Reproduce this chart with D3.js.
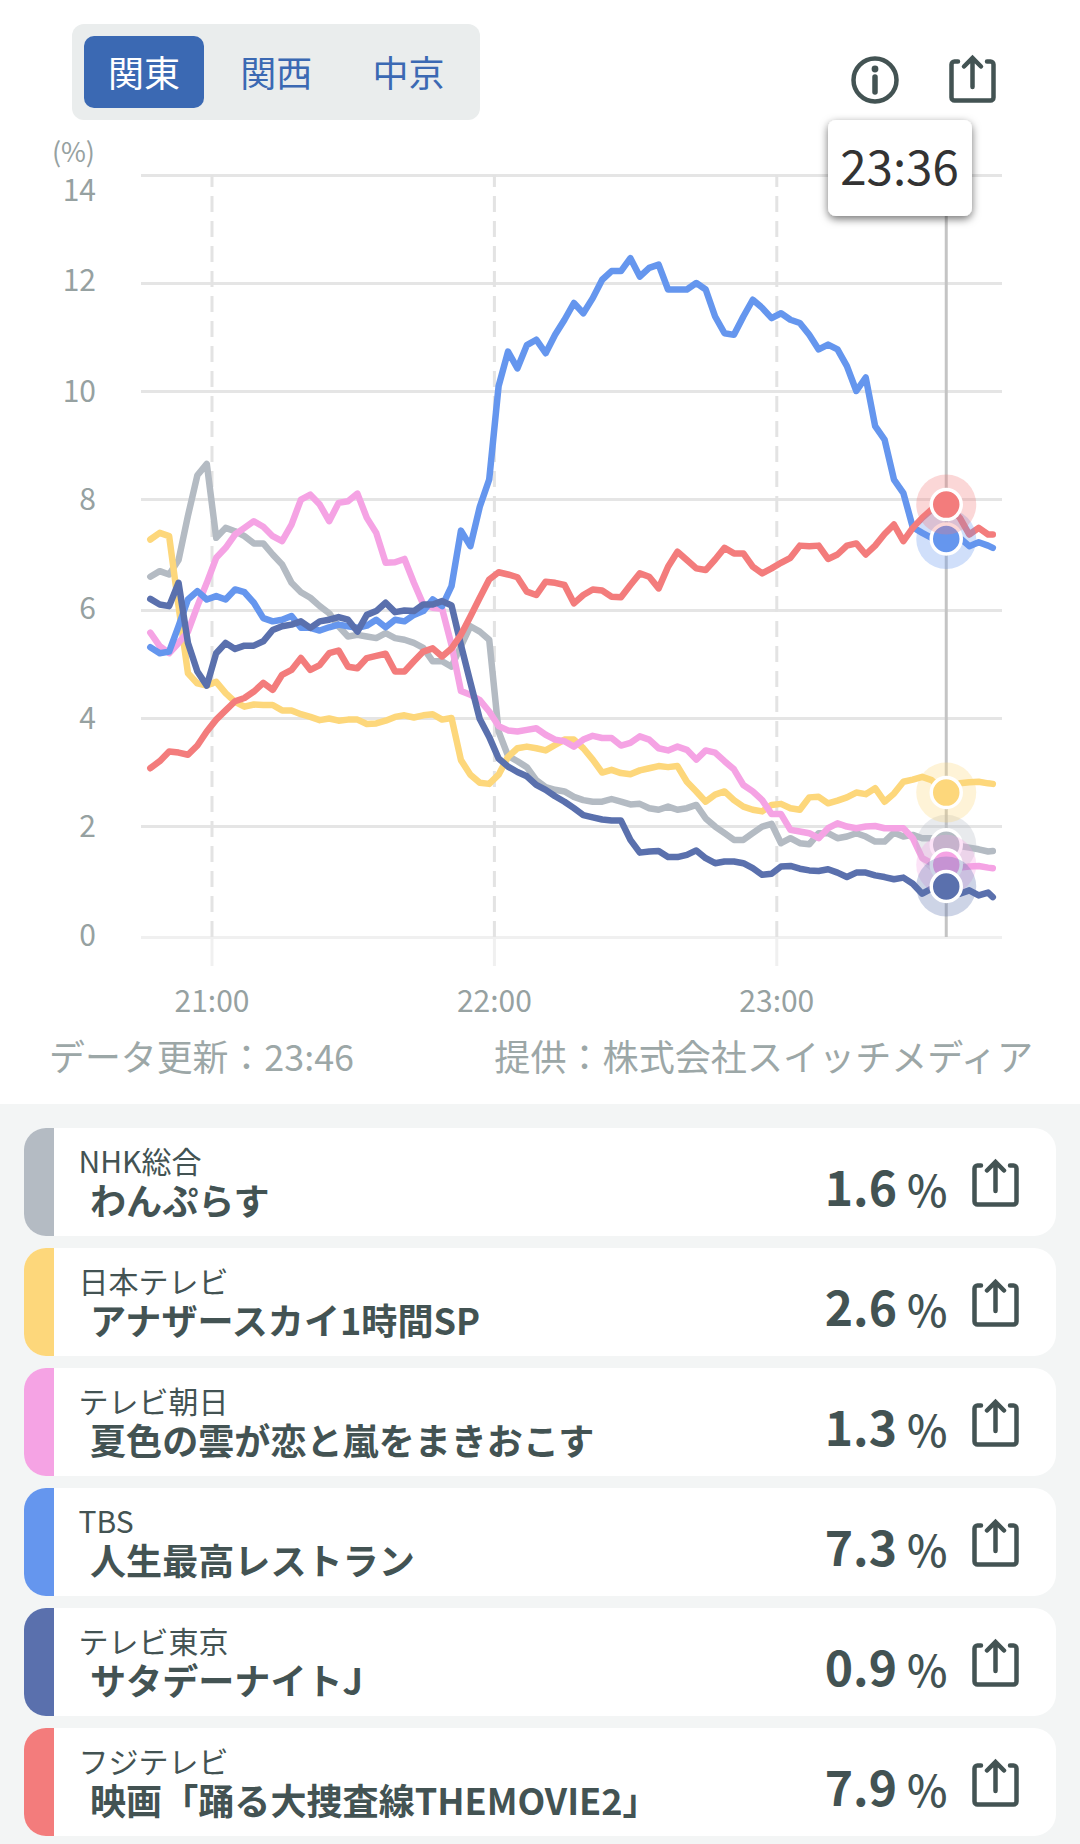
<!DOCTYPE html>
<html>
<head>
<meta charset="utf-8">
<style>
  html, body { margin: 0; padding: 0; background: #fff; }
  svg { display: block; }
  text { font-family: "Noto Sans CJK JP", "Noto Sans", sans-serif; }
</style>
</head>
<body>
<svg id="chart" width="1080" height="1844"></svg>
<script src="https://cdn.jsdelivr.net/npm/d3@7"></script>
<script>
// minutes after 21:00
var minutes = [-13, -11, -9, -7, -5, -3, -1,
  1, 3, 5, 7, 9, 11, 13, 15, 17, 19, 21, 23, 25, 27, 29, 31, 33, 35, 37, 39, 41, 43, 45, 47, 49, 51, 53, 55, 57, 59,
  61, 63, 65, 67, 69, 71, 73, 75, 77, 79, 81, 83, 85, 87, 89, 91, 93, 95, 97, 99, 101, 103, 105, 107, 109, 111, 113, 115, 117, 119,
  121, 123, 125, 127, 129, 131, 133, 135, 137, 139, 141, 143, 145, 147, 149, 151, 153, 155,
  156, 157, 159, 161, 163, 165, 166];

var nhk = [6.6, 6.7, 6.64, 6.9, 7.7, 8.44, 8.65,
  7.3, 7.48, 7.42, 7.33, 7.2, 7.2, 7.0, 6.82, 6.49, 6.32, 6.22, 6.07, 5.94, 5.7, 5.51, 5.54, 5.51, 5.48, 5.57, 5.48, 5.45, 5.39, 5.3, 5.05, 5.05, 4.95, 5.33, 5.7, 5.6, 5.45,
  3.75, 3.3, 3.2, 3.09, 2.85, 2.72, 2.67, 2.64, 2.54, 2.48, 2.45, 2.45, 2.5, 2.45, 2.4, 2.41, 2.33, 2.3, 2.36, 2.3, 2.33, 2.39, 2.14, 1.99, 1.87, 1.75, 1.75, 1.87, 1.99, 2.04,
  1.69, 1.78, 1.69, 1.67, 1.87, 1.87, 1.78, 1.81, 1.87, 1.81, 1.72, 1.72, 1.88, 1.81, 1.84, 1.78, 1.78, 1.69,
  1.66, 1.66, 1.64, 1.61, 1.58, 1.54, 1.55];
var ntv = [7.27, 7.39, 7.33, 6.07, 4.83, 4.64, 4.6,
  4.67, 4.46, 4.3, 4.21, 4.25, 4.24, 4.24, 4.14, 4.14, 4.07, 4.02, 3.96, 3.99, 3.95, 3.97, 3.97, 3.89, 3.9, 3.95, 4.02, 4.05, 4.01, 4.05, 4.07, 3.97, 4.0, 3.22, 2.95, 2.8, 2.78,
  2.95, 3.28, 3.44, 3.47, 3.44, 3.4, 3.5, 3.6, 3.6, 3.44, 3.23, 2.99, 3.04, 2.98, 2.96, 3.03, 3.07, 3.11, 3.09, 3.11, 2.82, 2.64, 2.45, 2.58, 2.64, 2.48, 2.36, 2.3, 2.27, 2.39,
  2.41, 2.33, 2.3, 2.53, 2.54, 2.42, 2.47, 2.53, 2.62, 2.59, 2.7, 2.45, 2.6, 2.82, 2.86, 2.91, 2.85, 2.7,
  2.62, 2.7, 2.79, 2.81, 2.82, 2.79, 2.78];
var asahi = [5.58, 5.33, 5.2, 5.39, 5.6, 6.07, 6.49,
  6.94, 7.12, 7.36, 7.48, 7.6, 7.5, 7.33, 7.24, 7.54, 7.99, 8.08, 7.9, 7.6, 7.93, 7.96, 8.1, 7.66, 7.39, 6.85, 6.86, 6.92, 6.49, 6.1, 6.04, 6.02, 5.35, 4.5, 4.43, 4.33, 4.12,
  3.85, 3.77, 3.75, 3.78, 3.81, 3.69, 3.6, 3.57, 3.47, 3.6, 3.67, 3.63, 3.63, 3.49, 3.54, 3.66, 3.6, 3.44, 3.4, 3.47, 3.41, 3.23, 3.4, 3.36, 3.2, 3.05, 2.76, 2.64, 2.48, 2.22,
  2.22, 1.93, 1.9, 1.87, 1.78, 1.96, 2.05, 1.99, 1.96, 1.99, 2.0, 1.96, 1.96, 1.96, 1.78, 1.42, 1.33, 1.3,
  1.3, 1.28, 1.25, 1.27, 1.28, 1.25, 1.24];
var tbs = [5.31, 5.2, 5.23, 5.7, 6.19, 6.34, 6.19,
  6.25, 6.19, 6.37, 6.32, 6.13, 5.85, 5.79, 5.82, 5.89, 5.67, 5.67, 5.62, 5.68, 5.73, 5.7, 5.67, 5.71, 5.82, 5.68, 5.82, 5.79, 5.91, 5.98, 6.19, 6.07, 6.43, 7.43, 7.15, 7.86, 8.36,
  10.09, 10.73, 10.42, 10.85, 10.95, 10.7, 11.04, 11.32, 11.63, 11.44, 11.72, 12.06, 12.22, 12.22, 12.46, 12.12, 12.28, 12.34, 11.88, 11.88, 11.88, 12.0, 11.88, 11.38, 11.07, 11.04, 11.38, 11.69, 11.54, 11.35,
  11.44, 11.32, 11.26, 11.04, 10.77, 10.86, 10.77, 10.46, 10.0, 10.25, 9.35, 9.1, 8.36, 8.11, 7.49, 7.39, 7.3, 7.28,
  7.28, 7.28, 7.3, 7.15, 7.22, 7.16, 7.12];
var tokyo = [6.2, 6.1, 6.07, 6.49, 5.39, 4.86, 4.6,
  5.2, 5.39, 5.28, 5.34, 5.34, 5.42, 5.63, 5.7, 5.73, 5.79, 5.67, 5.79, 5.82, 5.87, 5.82, 5.6, 5.91, 5.98, 6.13, 5.96, 5.99, 5.98, 6.1, 6.1, 6.16, 6.08, 5.35, 4.66, 3.98, 3.65,
  3.25, 3.1, 3.0, 2.92, 2.76, 2.67, 2.55, 2.45, 2.33, 2.2, 2.16, 2.12, 2.1, 2.1, 1.75, 1.52, 1.54, 1.55, 1.44, 1.44, 1.48, 1.56, 1.42, 1.33, 1.36, 1.36, 1.33, 1.24, 1.12, 1.14,
  1.27, 1.28, 1.23, 1.2, 1.19, 1.22, 1.16, 1.08, 1.16, 1.16, 1.11, 1.08, 1.04, 1.07, 0.96, 0.78, 0.87, 0.9,
  0.91, 0.82, 0.78, 0.84, 0.75, 0.8, 0.72];
var fuji = [3.07, 3.2, 3.38, 3.36, 3.32, 3.49, 3.75,
  3.97, 4.14, 4.31, 4.37, 4.49, 4.65, 4.52, 4.8, 4.89, 5.11, 4.89, 4.98, 5.2, 5.25, 4.95, 4.92, 5.11, 5.15, 5.19, 4.86, 4.86, 5.05, 5.23, 5.29, 5.14, 5.29, 5.54, 5.88, 6.22, 6.55,
  6.68, 6.64, 6.59, 6.33, 6.27, 6.51, 6.49, 6.45, 6.12, 6.27, 6.37, 6.35, 6.24, 6.23, 6.45, 6.66, 6.6, 6.39, 6.78, 7.05, 6.9, 6.75, 6.72, 6.91, 7.12, 7.02, 7.02, 6.78, 6.66, 6.75,
  6.85, 6.94, 7.16, 7.15, 7.16, 6.92, 7.0, 7.16, 7.2, 7.0, 7.16, 7.37, 7.54, 7.24, 7.48, 7.66, 7.81, 7.89,
  7.9, 7.84, 7.66, 7.36, 7.48, 7.36, 7.36];

var channels = ['NHK総合', '日本テレビ', 'テレビ朝日', 'TBS', 'テレビ東京', 'フジテレビ'];
var programs = ['わんぷらす', 'アナザースカイ1時間SP', '夏色の雲が恋と嵐をまきおこす', '人生最高レストラン', 'サタデーナイトJ', '映画「踊る大捜査線THEMOVIE2」'];
var shares = ['1.6', '2.6', '1.3', '7.3', '0.9', '7.9'];
var colors = ['#b4bbc3', '#fdd77b', '#f5a3e4', '#6596ee', '#5a70ad', '#f37c7c'];
var seriesValues = [nhk, ntv, asahi, tbs, tokyo, fuji];

var regions = ['関東', '関西', '中京'];
var yTicks = [0, 2, 4, 6, 8, 10, 12, 14];
var xTicks = [0, 60, 120];
var xTickLabels = ['21:00', '22:00', '23:00'];
var cursorMinute = 156;
var cursorLabel = '23:36';

var textDark = '#435353';
var textAxis = '#96a1a1';
var tabBlue = '#3b69b3';
var sharePath = 'M9,6.5H5.5a3,3 0 0 0 -3,3V42.5a3,3 0 0 0 3,3H41.5a3,3 0 0 0 3,-3V9.5a3,3 0 0 0 -3,-3H38M23.5,32V3M15,11.5L23.5,3L32,11.5';

var svg = d3.select('#chart');

var x = d3.scaleLinear().domain([0, 120]).range([211.5, 776.3]);
// the screenshot's gridlines are not quite evenly spaced
var y = d3.scaleLinear().domain(yTicks).range([937, 826, 718, 610, 499, 391, 283, 175]);

var defs = svg.append('defs');
var shadow = defs.append('filter')
  .attr('id', 'tipShadow')
  .attr('x', '-20%').attr('y', '-20%')
  .attr('width', '140%').attr('height', '140%');
shadow.append('feDropShadow')
  .attr('dx', 0).attr('dy', 3)
  .attr('stdDeviation', 4)
  .attr('flood-color', '#000')
  .attr('flood-opacity', 0.55);

svg.append('rect')
  .attr('x', 0).attr('y', 1104)
  .attr('width', 1080).attr('height', 740)
  .attr('fill', '#f3f5f5');

// region tabs
svg.append('rect')
  .attr('x', 72).attr('y', 24)
  .attr('width', 408).attr('height', 96)
  .attr('rx', 12)
  .attr('fill', '#eaeded');
svg.append('rect')
  .attr('x', 84).attr('y', 36)
  .attr('width', 120).attr('height', 72)
  .attr('rx', 10)
  .attr('fill', tabBlue);
svg.selectAll('.tab')
  .data(regions)
  .enter()
  .append('text')
  .attr('class', 'tab')
  .attr('x', function(d, i) { return 144 + i * 132.3; })
  .attr('y', 87)
  .attr('text-anchor', 'middle')
  .attr('font-size', 36)
  .attr('fill', function(d, i) { return i === 0 ? '#fff' : tabBlue; })
  .text(function(d) { return d; });

// info and share icons
var info = svg.append('g').attr('transform', 'translate(875,80)');
info.append('circle')
  .attr('r', 21.5)
  .attr('fill', 'none')
  .attr('stroke', textDark)
  .attr('stroke-width', 4.5);
info.append('circle')
  .attr('cy', -11)
  .attr('r', 3.4)
  .attr('fill', textDark);
info.append('line')
  .attr('y1', -3).attr('y2', 12)
  .attr('stroke', textDark)
  .attr('stroke-width', 5.5)
  .attr('stroke-linecap', 'round');
svg.append('path')
  .attr('transform', 'translate(949,55)')
  .attr('d', sharePath)
  .attr('fill', 'none')
  .attr('stroke', textDark)
  .attr('stroke-width', 4.5)
  .attr('stroke-linecap', 'round');

// gridlines and value labels
var yAxis = svg.append('g')
  .attr('transform', 'translate(141,0)')
  .call(d3.axisLeft(y).tickValues(yTicks).tickSize(-861).tickPadding(45));
yAxis.select('.domain').remove();
yAxis.selectAll('.tick line')
  .attr('stroke', function(d) { return d === 0 ? '#f0f0f0' : '#e5e5e5'; })
  .attr('stroke-width', 3);
yAxis.selectAll('.tick text')
  .attr('font-size', 30)
  .attr('font-family', '"Noto Sans CJK JP"')
  .attr('fill', textAxis)
  .attr('dy', function(d) {
    if (d === 14) return 25;
    if (d === 12) return 7;
    if (d === 0 || d === 6) return 8.5;
    return 10.5;
  });

svg.append('text')
  .attr('x', 95).attr('y', 162)
  .attr('text-anchor', 'end')
  .attr('font-size', 27)
  .attr('fill', textAxis)
  .text('(%)');

// hour lines and time labels
var xAxis = svg.append('g')
  .attr('transform', 'translate(0,937)')
  .call(d3.axisBottom(x)
    .tickValues(xTicks)
    .tickSize(29)
    .tickPadding(24.6)
    .tickFormat(function(d, i) { return xTickLabels[i]; }));
xAxis.select('.domain').remove();
xAxis.selectAll('.tick line')
  .attr('stroke', '#f0f0f0')
  .attr('stroke-width', 3);
xAxis.selectAll('.tick text')
  .attr('font-size', 30)
  .attr('font-family', '"Noto Sans CJK JP"')
  .attr('fill', textAxis);
xAxis.selectAll('.tick')
  .append('line')
  .attr('y1', 0).attr('y2', y(14) - y(0))
  .attr('stroke', '#e3e3e3')
  .attr('stroke-width', 3)
  .attr('stroke-dasharray', '16 9');

// cursor
svg.append('line')
  .attr('x1', x(cursorMinute) + 0.5).attr('x2', x(cursorMinute) + 0.5)
  .attr('y1', 216).attr('y2', y(0))
  .attr('stroke', '#c4c4c4')
  .attr('stroke-width', 3);

// rating lines
var line = d3.line()
  .x(function(d, i) { return x(minutes[i]); })
  .y(function(d) { return y(d); });

svg.selectAll('.rating')
  .data(seriesValues)
  .enter()
  .append('path')
  .attr('class', 'rating')
  .attr('d', line)
  .attr('fill', 'none')
  .attr('stroke', function(d, i) { return colors[i]; })
  .attr('stroke-width', 6.5)
  .attr('stroke-linejoin', 'round')
  .attr('stroke-linecap', 'round');

// markers at the cursor
var cursorIndex = minutes.indexOf(cursorMinute);
var markers = svg.selectAll('.marker')
  .data(seriesValues)
  .enter()
  .append('g')
  .attr('class', 'marker')
  .attr('transform', function(d) {
    return 'translate(' + (x(cursorMinute) + 0.5) + ',' + y(d[cursorIndex]) + ')';
  });
markers.append('circle')
  .attr('r', 30)
  .attr('fill', function(d, i) { return colors[i]; })
  .attr('opacity', 0.3);
markers.append('circle')
  .attr('r', 15)
  .attr('fill', function(d, i) { return colors[i]; })
  .attr('stroke', '#fff')
  .attr('stroke-width', 3.5);

// tooltip
svg.append('rect')
  .attr('x', 828).attr('y', 120)
  .attr('width', 144).attr('height', 96)
  .attr('rx', 8)
  .attr('fill', '#fff')
  .attr('filter', 'url(#tipShadow)');
svg.append('text')
  .attr('x', 899.5).attr('y', 184.5)
  .attr('text-anchor', 'middle')
  .attr('font-size', 47.5)
  .attr('font-family', 'Roboto')
  .attr('fill', '#333')
  .text(cursorLabel);

// footnotes
svg.append('text')
  .attr('x', 49).attr('y', 1071)
  .attr('font-size', 35.9)
  .attr('fill', '#9ca7a7')
  .text('データ更新：23:46');
svg.append('text')
  .attr('x', 1033).attr('y', 1071)
  .attr('text-anchor', 'end')
  .attr('font-size', 36.1)
  .attr('fill', '#9ca7a7')
  .text('提供：株式会社スイッチメディア');

// channel cards
var cards = svg.selectAll('.card')
  .data(channels)
  .enter()
  .append('g')
  .attr('class', 'card')
  .attr('transform', function(d, i) { return 'translate(24,' + (1128 + i * 120) + ')'; });

cards.append('rect')
  .attr('width', 1032).attr('height', 108)
  .attr('rx', 22)
  .attr('fill', '#fff');
cards.append('path')
  .attr('d', 'M30,0H22a22,22 0 0 0 -22,22V86a22,22 0 0 0 22,22H30Z')
  .attr('fill', function(d, i) { return colors[i]; });
cards.append('text')
  .attr('x', 54.5).attr('y', 45)
  .attr('font-size', 30)
  .attr('fill', textDark)
  .text(function(d) { return d; });
cards.append('text')
  .attr('x', 66).attr('y', 87)
  .attr('font-size', 36.1)
  .attr('font-weight', 700)
  .attr('fill', textDark)
  .text(function(d, i) { return programs[i]; });
cards.append('text')
  .attr('x', 873).attr('y', 78)
  .attr('text-anchor', 'end')
  .attr('font-size', 48)
  .attr('font-weight', 700)
  .attr('fill', textDark)
  .text(function(d, i) { return shares[i]; });
cards.append('text')
  .attr('x', 883).attr('y', 79)
  .attr('font-size', 43)
  .attr('font-weight', 500)
  .attr('fill', textDark)
  .text('%');
cards.append('path')
  .attr('transform', 'translate(948,31)')
  .attr('d', sharePath)
  .attr('fill', 'none')
  .attr('stroke', textDark)
  .attr('stroke-width', 4.5)
  .attr('stroke-linecap', 'round');
</script>
</body>
</html>
